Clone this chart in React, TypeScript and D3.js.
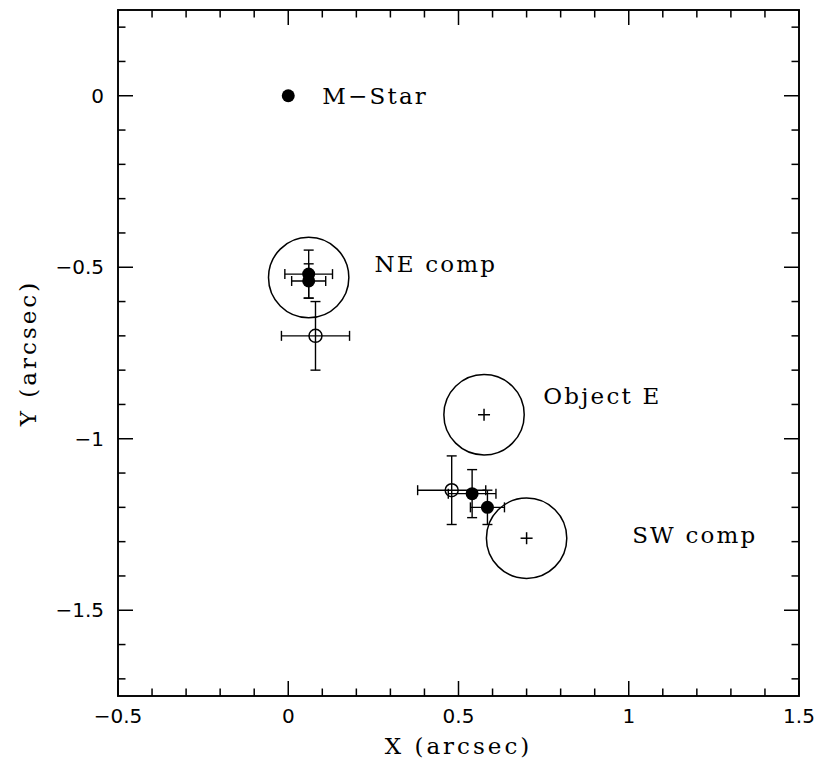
import { useEffect } from "react";
import * as d3 from "d3";

// filled points (photocentres) with symmetric errors
const filledX = [0.0, 0.06, 0.06, 0.54, 0.585];
const filledY = [0.0, -0.52, -0.54, -1.16, -1.2];
const filledErrX = [0, 0.07, 0.05, 0.07, 0.05];
const filledErrY = [0, 0.07, 0.05, 0.07, 0.05];

// open points
const openX = [0.08, 0.48];
const openY = [-0.7, -1.15];
const openErrX = [0.1, 0.1];
const openErrY = [0.1, 0.1];

// apertures (circle + centre cross)
const apertureX = [0.06, 0.575, 0.7];
const apertureY = [-0.53, -0.93, -1.29];
const apertureCross = [false, true, true];
const apertureRadius = 0.118;

// labels
const labelText = ["M\u2212Star", "NE comp", "Object E", "SW comp"];
const labelX = [0.1, 0.253, 0.749, 1.01];
const labelY = [0.0, -0.49, -0.875, -1.28];

const xTickLabels = ["\u22120.5", "0", "0.5", "1", "1.5"];
const yTickLabels = ["0", "\u22120.5", "\u22121", "\u22121.5"];

const W = 819;
const H = 768;
const serif = "'DejaVu Serif', serif";
const sans = "'DejaVu Sans', sans-serif";

export default function App() {
  useEffect(() => {
    document.body.style.margin = "0";
  }, []);

  const x = d3.scaleLinear().domain([-0.5, 1.5]).range([118, 799]);
  const y = d3.scaleLinear().domain([-1.75, 0.25]).range([696, 10]);
  const [x0, x1] = x.range();
  const [y0, y1] = y.range();

  const isMajor = (v: number) => Math.abs(v * 2 - Math.round(v * 2)) < 1e-6;
  const xt = x.ticks(20);
  const yt = y.ticks(20);
  const cap = 5;

  const errorBar = (
    cx: number,
    cy: number,
    ex: number,
    ey: number,
    key: string,
  ) => {
    if (!ex && !ey) return null;
    const l = x(cx - ex), r = x(cx + ex), t = y(cy + ey), b = y(cy - ey);
    const px = x(cx), py = y(cy);
    return (
      <g key={key} stroke="#000" strokeWidth={1.4} fill="none">
        <line x1={l} x2={r} y1={py} y2={py} />
        <line x1={l} x2={l} y1={py - cap} y2={py + cap} />
        <line x1={r} x2={r} y1={py - cap} y2={py + cap} />
        <line x1={px} x2={px} y1={t} y2={b} />
        <line x1={px - cap} x2={px + cap} y1={t} y2={t} />
        <line x1={px - cap} x2={px + cap} y1={b} y2={b} />
      </g>
    );
  };

  return (
    <svg
      width={W}
      height={H}
      viewBox={`0 0 ${W} ${H}`}
      style={{ display: "block", background: "#fff" }}
    >
      {/* ticks on all four sides */}
      <g stroke="#000" strokeWidth={1.5}>
        {xt.map((v, i) => {
          const len = isMajor(v) ? 15 : 7.5;
          return (
            <g key={"xt" + i}>
              <line x1={x(v)} x2={x(v)} y1={y0} y2={y0 - len} />
              <line x1={x(v)} x2={x(v)} y1={y1} y2={y1 + len} />
            </g>
          );
        })}
        {yt.map((v, i) => {
          const len = isMajor(v) ? 15 : 7.5;
          return (
            <g key={"yt" + i}>
              <line x1={x0} x2={x0 + len} y1={y(v)} y2={y(v)} />
              <line x1={x1} x2={x1 - len} y1={y(v)} y2={y(v)} />
            </g>
          );
        })}
      </g>
      <rect
        x={x0}
        y={y1}
        width={x1 - x0}
        height={y0 - y1}
        fill="none"
        stroke="#000"
        strokeWidth={1.9}
      />

      {/* tick labels */}
      <g fontFamily={sans} fontSize={20} fill="#000">
        {xt.filter(isMajor).map((v, i) => (
          <text key={"xl" + i} x={x(v)} y={723} textAnchor="middle">
            {xTickLabels[i]}
          </text>
        ))}
        {yt
          .filter(isMajor)
          .filter((v) => v <= 0 && v >= -1.5)
          .reverse()
          .map((v, i) => (
            <text
              key={"yl" + i}
              x={104}
              y={y(v)}
              textAnchor="end"
              dominantBaseline="central"
            >
              {yTickLabels[i]}
            </text>
          ))}
      </g>

      {/* axis titles */}
      <text
        x={(x0 + x1) / 2}
        y={754}
        textAnchor="middle"
        fontFamily={serif}
        fontSize={23}
        letterSpacing={3}
      >
        X (arcsec)
      </text>
      <text
        transform={`translate(28,${(y0 + y1) / 2}) rotate(-90)`}
        textAnchor="middle"
        dominantBaseline="central"
        fontFamily={serif}
        fontSize={23}
        letterSpacing={3}
      >
        Y (arcsec)
      </text>

      {/* apertures */}
      {apertureX.map((ax, i) => (
        <g key={"ap" + i} stroke="#000" fill="none" strokeWidth={1.5}>
          <circle
            cx={x(ax)}
            cy={y(apertureY[i])}
            r={x(apertureRadius) - x(0)}
          />
          {apertureCross[i] && (
            <>
              <line
                x1={x(ax) - 6}
                x2={x(ax) + 6}
                y1={y(apertureY[i])}
                y2={y(apertureY[i])}
              />
              <line
                x1={x(ax)}
                x2={x(ax)}
                y1={y(apertureY[i]) - 6}
                y2={y(apertureY[i]) + 6}
              />
            </>
          )}
        </g>
      ))}

      {/* error bars */}
      {openX.map((v, i) =>
        errorBar(v, openY[i], openErrX[i], openErrY[i], "oe" + i),
      )}
      {filledX.map((v, i) =>
        errorBar(v, filledY[i], filledErrX[i], filledErrY[i], "fe" + i),
      )}

      {/* markers */}
      {openX.map((v, i) => (
        <circle
          key={"o" + i}
          cx={x(v)}
          cy={y(openY[i])}
          r={6.5}
          fill="none"
          stroke="#000"
          strokeWidth={1.5}
        />
      ))}
      {filledX.map((v, i) => (
        <circle key={"f" + i} cx={x(v)} cy={y(filledY[i])} r={6.5} fill="#000" />
      ))}

      {/* labels */}
      <g fontFamily={serif} fontSize={23} letterSpacing={2.2} fill="#000">
        {labelText.map((t, i) => (
          <text
            key={"lb" + i}
            x={x(labelX[i])}
            y={y(labelY[i])}
            dominantBaseline="central"
          >
            {t}
          </text>
        ))}
      </g>
    </svg>
  );
}
